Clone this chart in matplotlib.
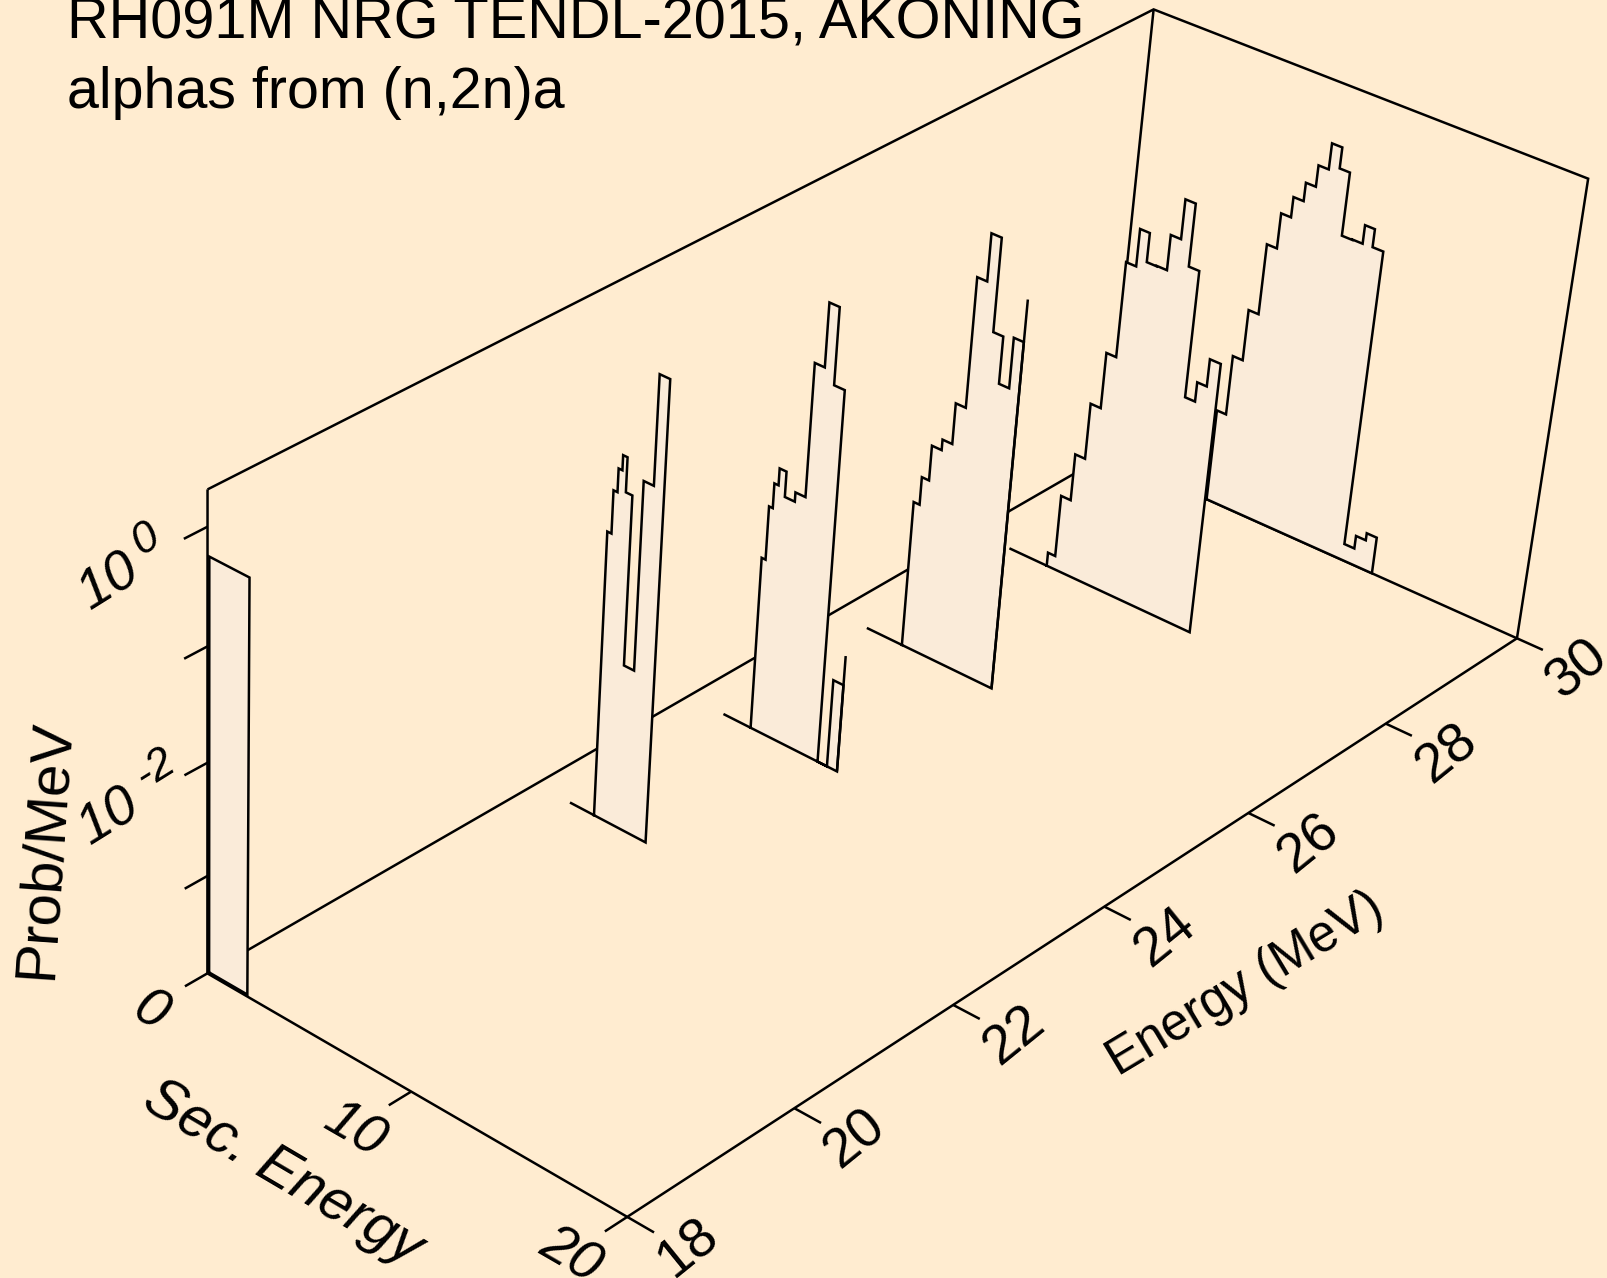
import numpy as np
import matplotlib
matplotlib.use('Agg')
import matplotlib.pyplot as plt
from matplotlib.patches import Polygon

plt.rcParams['font.family'] = ['Liberation Sans', 'DejaVu Sans']

BG = '#FFECD0'
FILL = '#FAEBD9'

TITLE_1 = 'RH091M NRG TENDL-2015, AKONING'
TITLE_2 = 'alphas from (n,2n)a'

SEC_TICKS = [0, 10, 20]
SEC_TICK_LABELS = ['0', '10', '20']
E_TICKS = [18, 20, 22, 24, 26, 28, 30]
E_TICK_LABELS = ['18', '20', '22', '24', '26', '28', '30']
LOG_TICKS = [0, -1, -2, -3]
LOG_MIN, LOG_MAX = -3.883, 0.306
SEC_MIN, SEC_MAX = 0, 20
E_MIN, E_MAX = 18, 30

# incident energy, start of zero base line, bin edges, log10(prob/MeV) per bin (None = zero),
# last value of the curve, where the file stops on a rising edge
E18_energy = 18.02
E18_edges = [0.0, 1.92]
E18_logp = [-0.255]

E22_base = 1.74
E22_edges = [2.94, 3.14, 3.33, 3.51, 3.72, 4.03, 4.52, 5.00, 5.49]
E22_logp = [-1.315, -0.938, -0.733, -0.603, -0.905, -2.404, -0.737, 0.21]

E24_base = 1.78
E24_edges = [3.14, 3.33, 3.51, 3.71, 4.04, 4.52, 5.00, 5.47, 5.95, 6.45, 6.91, 7.40]
E24_logp = [-2.304, -1.822, -1.60, -1.449, -1.675, -1.592, -0.414, 0.143, -0.528, None, -3.079]
E24_last = -2.811

E26_base = 1.66
E26_edges = [3.42, 3.71, 4.06, 4.53, 5.00, 5.48, 5.95, 6.43, 6.90, 7.38, 7.85]
E26_logp = [-2.534, -2.279, -1.96, -1.864, -1.495, -0.335, 0.084, -0.741, -1.16, -0.712]
E26_last = -0.339

E28_base = 1.82
E28_edges = [3.70, 4.06, 4.53, 5.01, 5.50, 5.97, 6.45, 6.91, 7.38, 7.86, 8.34, 8.82, 9.31, 9.78, 10.23, 10.74]
E28_logp = [-3.757, -3.179, -2.744, -2.228, -1.717, -0.854, -0.519, -0.779, -0.775, -0.461, -0.109, -0.666, -1.805, -1.629, -1.382]

E30_edges = [5.04, 5.49, 5.97, 6.45, 6.93, 7.40, 7.88, 8.35, 8.83, 9.31, 9.79, 10.28, 10.76, 11.22, 11.72, 12.20, 12.67, 13.15]
E30_logp = [-3.02, -2.463, -1.99, -1.34, -1.018, -0.833, -0.666, -0.473, -0.239, -0.427, -0.997, -0.993, -0.825, -0.988, -3.728, -3.607, -3.539]

# camera of the 3-D box, from normalised (sec, energy, height) to picture pixels / 1000
CAMERA = np.array([[0.384339, 1.063121, -0.01151, 0.207391],
                   [0.17462, -0.451669, -0.511452, 0.973378],
                   [-0.056609, 0.147513, -0.056158, 1.0]])


def height(logp):
    if logp is None:
        return 0.0
    return (logp - LOG_MIN) / (LOG_MAX - LOG_MIN)


def proj(sec, e, z):
    sec = np.atleast_1d(np.asarray(sec, float))
    e = np.atleast_1d(np.asarray(e, float))
    z = np.atleast_1d(np.asarray(z, float))
    sec, e, z = np.broadcast_arrays(sec, e, z)
    X = np.vstack([(sec - SEC_MIN) / (SEC_MAX - SEC_MIN), (e - E_MIN) / (E_MAX - E_MIN), z, np.ones_like(z)])
    h = CAMERA @ X
    return h[0] / h[2] * 1000, h[1] / h[2] * 1000


W, H = 1607, 1278
fig = plt.figure(figsize=(W / 100, H / 100), dpi=100, facecolor=BG)
ax = fig.add_axes([0, 0, 1, 1])
ax.set_xlim(0, W)
ax.set_ylim(H, 0)
ax.axis('off')

LW = 1.8


def line(sec, e, z, zorder=2):
    x, y = proj(sec, e, z)
    ax.plot(x, y, color='black', lw=LW, solid_joinstyle='miter', solid_capstyle='butt', zorder=zorder)


def spectrum(e, edges, logp, base=None, last=None, zorder=3):
    s, z = [], []
    for i, v in enumerate(logp):
        s += [edges[i], edges[i + 1]]
        z += [height(v), height(v)]
    top_s = [edges[0]] + s + [edges[-1]]
    top_z = [0.0] + z + [0.0]
    x, y = proj(top_s, e, top_z)
    ax.add_patch(Polygon(np.c_[x, y], closed=True, facecolor=FILL, edgecolor='none', zorder=zorder))
    x, y = proj(top_s + [edges[0]], e, top_z + [0.0])
    ax.plot(x, y, color='black', lw=LW, solid_joinstyle='miter', zorder=zorder + 0.1)
    if base is not None:
        line([base, edges[0]], e, 0, zorder + 0.1)
    if last is not None:
        line([edges[-1], edges[-1]], e, [0, height(last)], zorder + 0.1)


# back of the box
line([SEC_MIN, SEC_MIN, SEC_MAX], [E_MIN, E_MAX, E_MAX], 0)
line([SEC_MIN, SEC_MIN], E_MIN, [0, 1])
line([SEC_MIN, SEC_MIN, SEC_MAX, SEC_MAX], [E_MIN, E_MAX, E_MAX, E_MAX], [1, 1, 1, 0])
line([SEC_MIN, SEC_MIN], E_MAX, [0, 1])

# spectra from back to front
spectrum(30, E30_edges, E30_logp, zorder=3)
spectrum(28, E28_edges, E28_logp, base=E28_base, zorder=4)
spectrum(26, E26_edges, E26_logp, base=E26_base, last=E26_last, zorder=5)
spectrum(24, E24_edges, E24_logp, base=E24_base, last=E24_last, zorder=6)
spectrum(22, E22_edges, E22_logp, base=E22_base, zorder=7)
spectrum(E18_energy, E18_edges, E18_logp, zorder=8)

# front axes and ticks
line([SEC_MIN, SEC_MAX, SEC_MAX], [E_MIN, E_MIN, E_MAX], 0, zorder=9)
for s in SEC_TICKS:
    line([s, s], [E_MIN, E_MIN - 0.26], 0, zorder=9)
for e in E_TICKS:
    line([SEC_MAX, SEC_MAX + 1.2], [e, e], 0, zorder=9)
for v in LOG_TICKS:
    line([SEC_MIN, SEC_MIN], [E_MIN, E_MIN - 0.26], height(v), zorder=9)

FS = 40
for s, lab in zip(SEC_TICKS, SEC_TICK_LABELS):
    x, y = proj(s, E_MIN, 0)
    ax.text(x[0] - 57, y[0] + 39, lab, fontsize=FS, style='italic', rotation=-30,
            ha='center', va='center', rotation_mode='anchor')
for e, lab in zip(E_TICKS, E_TICK_LABELS):
    x, y = proj(SEC_MAX, e, 0)
    ax.text(x[0] + 61, y[0] + 31, lab, fontsize=FS, rotation=39,
            ha='center', va='center', rotation_mode='anchor')

for v, lab, dx, dy, ex, ey in [(0, '0', -98, 56, -62, 13), (-2, '-2', -98, 55, -52, 6)]:
    x, y = proj(SEC_MIN, E_MIN, height(v))
    ax.text(x[0] + dx, y[0] + dy, '10', fontsize=FS, style='italic', rotation=32,
            ha='center', va='center', rotation_mode='anchor')
    ax.text(x[0] + ex, y[0] + ey, lab, fontsize=FS * 0.8, style='italic', rotation=32,
            ha='center', va='center', rotation_mode='anchor')

ax.text(45, 849, 'Prob/MeV', fontsize=42, rotation=86, ha='center', va='center', rotation_mode='anchor')
ax.text(283, 1173, 'Sec. Energy', fontsize=41.5, style='italic', rotation=-30.5,
        ha='center', va='center', rotation_mode='anchor')
ax.text(1245, 984, 'Energy (MeV)', fontsize=36.5, rotation=31, ha='center', va='center', rotation_mode='anchor')

ax.text(66.6, 39, TITLE_1, fontsize=41.5, ha='left', va='baseline')
ax.text(66.6, 107.6, TITLE_2, fontsize=41.3, ha='left', va='baseline')

fig.savefig('out.png', dpi=100, facecolor=BG)
